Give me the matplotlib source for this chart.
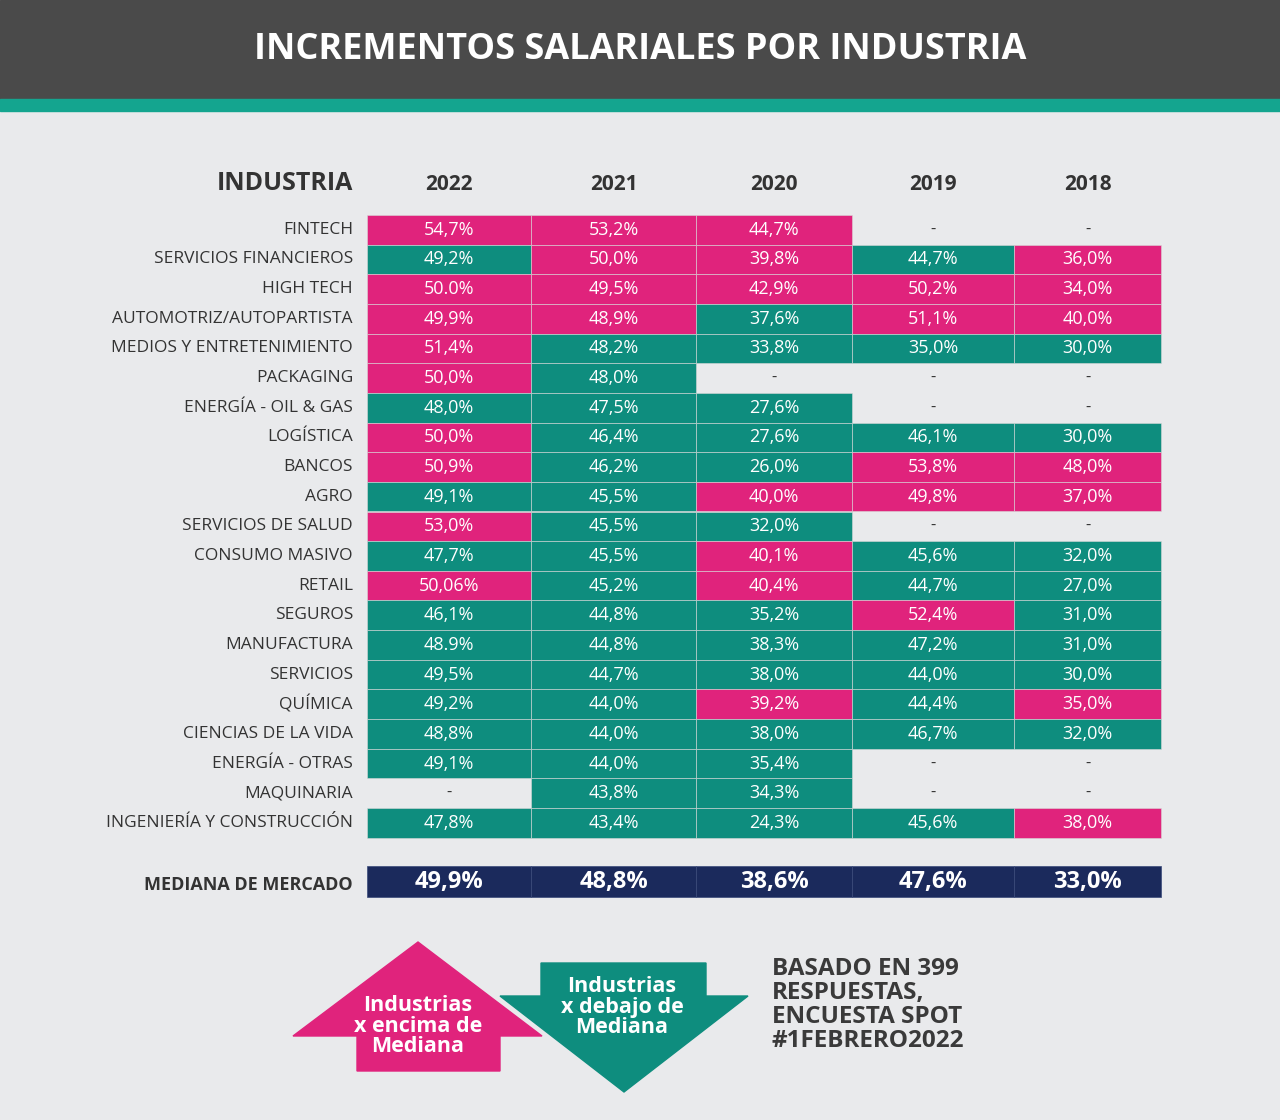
import matplotlib
matplotlib.use("Agg")
import matplotlib.pyplot as plt
from matplotlib.patches import Rectangle, Polygon

plt.rcParams['font.family'] = ['Open Sans', 'DejaVu Sans']

title = "INCREMENTOS SALARIALES POR INDUSTRIA"
years = ["2022", "2021", "2020", "2019", "2018"]
industries = ["FINTECH", "SERVICIOS FINANCIEROS", "HIGH TECH", "AUTOMOTRIZ/AUTOPARTISTA",
              "MEDIOS Y ENTRETENIMIENTO", "PACKAGING", "ENERGÍA - OIL & GAS", "LOGÍSTICA",
              "BANCOS", "AGRO", "SERVICIOS DE SALUD", "CONSUMO MASIVO", "RETAIL", "SEGUROS",
              "MANUFACTURA", "SERVICIOS", "QUÍMICA", "CIENCIAS DE LA VIDA", "ENERGÍA - OTRAS",
              "MAQUINARIA", "INGENIERÍA Y CONSTRUCCIÓN"]
col_2022 = ["54,7%", "49,2%", "50.0%", "49,9%", "51,4%", "50,0%", "48,0%", "50,0%", "50,9%", "49,1%",
            "53,0%", "47,7%", "50,06%", "46,1%", "48.9%", "49,5%", "49,2%", "48,8%", "49,1%", "-", "47,8%"]
col_2021 = ["53,2%", "50,0%", "49,5%", "48,9%", "48,2%", "48,0%", "47,5%", "46,4%", "46,2%", "45,5%",
            "45,5%", "45,5%", "45,2%", "44,8%", "44,8%", "44,7%", "44,0%", "44,0%", "44,0%", "43,8%", "43,4%"]
col_2020 = ["44,7%", "39,8%", "42,9%", "37,6%", "33,8%", "-", "27,6%", "27,6%", "26,0%", "40,0%",
            "32,0%", "40,1%", "40,4%", "35,2%", "38,3%", "38,0%", "39,2%", "38,0%", "35,4%", "34,3%", "24,3%"]
col_2019 = ["-", "44,7%", "50,2%", "51,1%", "35,0%", "-", "-", "46,1%", "53,8%", "49,8%",
            "-", "45,6%", "44,7%", "52,4%", "47,2%", "44,0%", "44,4%", "46,7%", "-", "-", "45,6%"]
col_2018 = ["-", "36,0%", "34,0%", "40,0%", "30,0%", "-", "-", "30,0%", "48,0%", "37,0%",
            "-", "32,0%", "27,0%", "31,0%", "31,0%", "30,0%", "35,0%", "32,0%", "-", "-", "38,0%"]
median_labels = ["49,9%", "48,8%", "38,6%", "47,6%", "33,0%"]
columns = [col_2022, col_2021, col_2020, col_2019, col_2018]

def val(s):
    return None if s == "-" else float(s.replace("%", "").replace(",", "."))

PINK = "#e0237c"; TEAL = "#0e8d7e"; NAVY = "#1b2a5c"; BG = "#e9eaec"

fig = plt.figure(figsize=(12.8, 11.2), dpi=100)
fig.patch.set_facecolor(BG)
ax = fig.add_axes([0, 0, 1, 1])
ax.set_xlim(0, 1280); ax.set_ylim(1120, 0); ax.axis("off")

ax.add_patch(Rectangle((0, 0), 1280, 99, color="#4a4a4a"))
ax.add_patch(Rectangle((0, 99), 1280, 12, color="#14a58f"))
ax.text(640, 50, title, color="white", fontsize=26, fontweight="bold", ha="center", va="center")

xe = [367, 531, 696, 852, 1014, 1161]
top = 215; h = 29.65
ax.text(353, 184, "INDUSTRIA", fontsize=18, fontweight="bold", ha="right", va="center", color="#333")
for j, y in enumerate(years):
    ax.text((xe[j] + xe[j+1]) / 2, 185, y, fontsize=15, fontweight="bold", ha="center", va="center", color="#333")

for i, name in enumerate(industries):
    yc = top + h * (i + 0.5)
    ax.text(353, yc, name, fontsize=12.5, ha="right", va="center", color="#333")
    for j, col in enumerate(columns):
        s = col[i]; v = val(s); m = val(median_labels[j])
        if v is None:
            ax.text((xe[j] + xe[j+1]) / 2, yc, "-", fontsize=12, ha="center", va="center", color="#333")
            continue
        c = PINK if v >= m else TEAL
        ax.add_patch(Rectangle((xe[j], top + h * i), xe[j+1] - xe[j], h, facecolor=c,
                               edgecolor="#d8d8d8", linewidth=0.4))
        ax.text((xe[j] + xe[j+1]) / 2, yc, s, fontsize=13, ha="center", va="center", color="white")

ax.text(353, 885, "MEDIANA DE MERCADO", fontsize=13, fontweight="bold", ha="right", va="center", color="#333")
for j, s in enumerate(median_labels):
    ax.add_patch(Rectangle((xe[j], 866), xe[j+1] - xe[j], 31, facecolor=NAVY, edgecolor="#3a4a7a", linewidth=0.5))
    ax.text((xe[j] + xe[j+1]) / 2, 882, s, fontsize=17, fontweight="bold", ha="center", va="center", color="white")

ax.add_patch(Polygon([(293, 1036), (418, 942), (542, 1036), (500, 1036), (500, 1071),
                      (357, 1071), (357, 1036)], closed=True, color=PINK))
ax.text(418, 1026, "Industrias\nx encima de\nMediana", color="white", fontsize=15.5, fontweight="bold",
        ha="center", va="center", linespacing=0.95)
ax.add_patch(Polygon([(541, 963), (706, 963), (706, 996), (748, 996), (624, 1092), (500, 996),
                      (541, 996)], closed=True, color=TEAL))
ax.text(622, 1007, "Industrias\nx debajo de\nMediana", color="white", fontsize=15.5, fontweight="bold",
        ha="center", va="center", linespacing=0.95)
ax.text(772, 1005, "BASADO EN 399\nRESPUESTAS,\nENCUESTA SPOT\n#1FEBRERO2022", color="#3a3a3a",
        fontsize=17.5, fontweight="bold", ha="left", va="center", linespacing=1.0)

fig.savefig("out.png", dpi=100, facecolor=BG)
